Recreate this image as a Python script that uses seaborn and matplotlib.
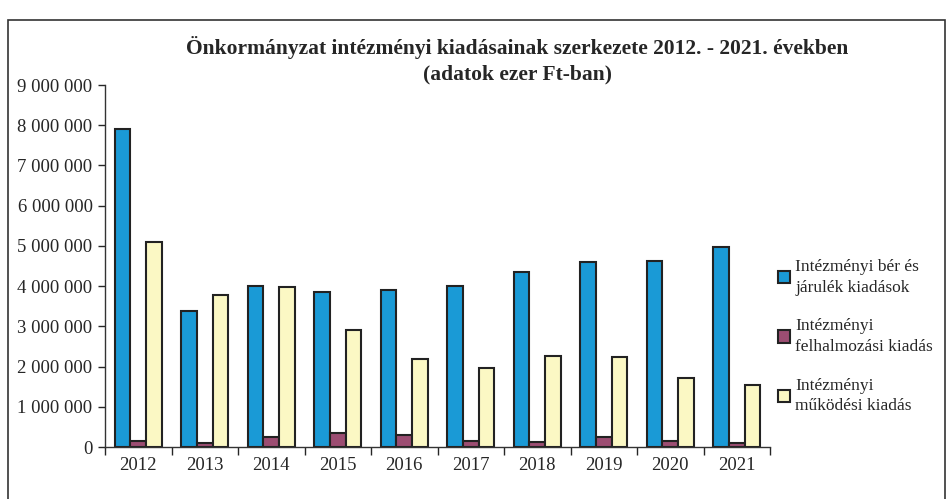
import numpy as np
import pandas as pd
import matplotlib
matplotlib.use("Agg")
import matplotlib.pyplot as plt
import matplotlib.ticker as mticker
from matplotlib.patches import Rectangle
import seaborn as sns

# adatok (ezer Ft)
evek = ["2012", "2013", "2014", "2015", "2016", "2017", "2018", "2019", "2020", "2021"]
ber_jarulek = [7900000, 3390000, 4000000, 3860000, 3900000, 4000000, 4360000, 4600000, 4630000, 4970000]
felhalmozasi = [160000, 90000, 260000, 340000, 300000, 160000, 130000, 260000, 150000, 100000]
mukodesi = [5100000, 3790000, 3980000, 2910000, 2200000, 1970000, 2270000, 2250000, 1720000, 1550000]

sorozatok = ["Intézményi bér és\njárulék kiadások",
             "Intézményi\nfelhalmozási kiadás",
             "Intézményi\nműködési kiadás"]
szinek = ["#1a9ad6", "#9c4d72", "#fbf8c4"]

df = pd.DataFrame({
    "ev": evek * 3,
    "ertek": ber_jarulek + felhalmozasi + mukodesi,
    "sorozat": [sorozatok[0]] * 10 + [sorozatok[1]] * 10 + [sorozatok[2]] * 10,
})

sns.set_style("white")
plt.rcParams["font.family"] = ["Liberation Serif", "DejaVu Serif"]

fig = plt.figure(figsize=(9.49, 4.99), dpi=100)
ax = fig.add_axes([105 / 949, 52 / 499, 665 / 949, 362 / 499])

sns.barplot(data=df, x="ev", y="ertek", hue="sorozat", palette=szinek, saturation=1,
            width=0.7, edgecolor="#222222", linewidth=1.5, ax=ax)

ax.set_ylim(0, 9000000)
ax.set_xlim(-0.5, 9.5)
ax.yaxis.set_major_locator(mticker.MultipleLocator(1000000))
ax.yaxis.set_major_formatter(mticker.FuncFormatter(lambda v, p: f"{int(v):,}".replace(",", " ")))
ax.set_xticks(np.arange(-0.5, 10, 1), minor=True)
ax.tick_params(axis="x", which="major", length=0, labelsize=13.5, pad=7)
ax.tick_params(axis="x", which="minor", length=6, width=1, direction="out", bottom=True)
ax.tick_params(axis="y", length=5, width=1, direction="out", left=True, labelsize=13.5, pad=4)
ax.set_xlabel("")
ax.set_ylabel("")
for s in ["top", "right"]:
    ax.spines[s].set_visible(False)
for s in ["left", "bottom"]:
    ax.spines[s].set_color("#333333")
    ax.spines[s].set_linewidth(1)

leg = ax.legend(loc="center left", bbox_to_anchor=(1.012, 0.305), frameon=False,
                fontsize=12.5, handlelength=0.7, handleheight=0.7, handletextpad=0.3,
                labelspacing=1.3, borderaxespad=0, borderpad=0)
for t in leg.get_texts():
    t.set_linespacing(1.4)

fig.text(0.545, 0.904, "Önkormányzat intézményi kiadásainak szerkezete 2012. - 2021. években",
         ha="center", va="center", fontsize=15.5, fontweight="bold")
fig.text(0.545, 0.85, "(adatok ezer Ft-ban)", ha="center", va="center",
         fontsize=15.5, fontweight="bold")

# diagram keret
fig.patches.append(Rectangle((8 / 949, -0.05), 937 / 949, 1.03 - 10 / 499,
                             transform=fig.transFigure, fill=False,
                             edgecolor="#333333", linewidth=1.2))

fig.savefig("out.png", dpi=100)
